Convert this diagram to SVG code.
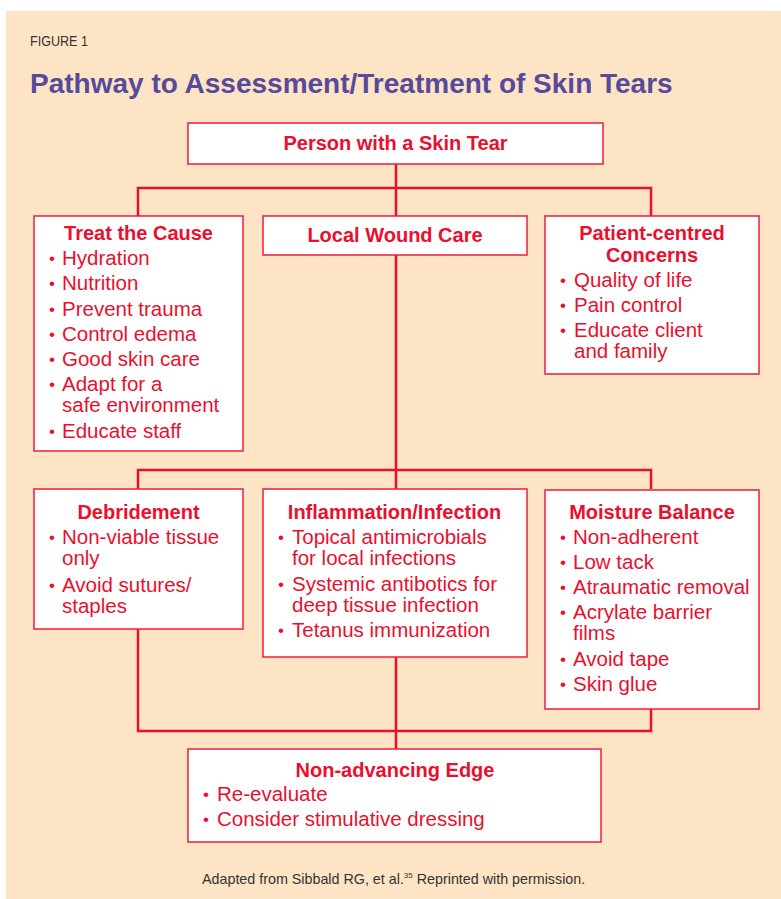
<svg xmlns="http://www.w3.org/2000/svg" width="781" height="899" viewBox="0 0 781 899">
<style>
.box{fill:#ffffff;stroke:#ee1b3a;stroke-width:1.5}
.hd{font-family:"Liberation Sans",Arial,sans-serif;font-weight:bold;font-size:20px;fill:#ea0f2e;text-anchor:middle}
.it{font-family:"Liberation Sans",Arial,sans-serif;font-size:20.5px;fill:#ea0f2e}
.bu{font-family:"Liberation Sans",Arial,sans-serif;font-size:17px;fill:#ea0f2e;text-anchor:middle}
.ln{fill:none;stroke:#ea0f2e;stroke-width:2.5}
</style>
<rect x="6" y="11" width="775" height="888" fill="#fde4c4"/>
<text x="30" y="46" font-family="Liberation Sans,Arial,sans-serif" font-size="15" fill="#333333" textLength="58" lengthAdjust="spacingAndGlyphs">FIGURE 1</text>
<text x="30" y="93" font-family="Liberation Sans,Arial,sans-serif" font-weight="bold" font-size="28" fill="#574a9c">Pathway to Assessment/Treatment of Skin Tears</text>

<g id="connectors">
<path class="ln" d="M396 164V216M138 216V188H651V216"/>
<path class="ln" d="M396 255V489M138 489V470H651V489"/>
<path class="ln" d="M138 629V731H651V709M396 657V749"/>
</g>

<g id="person">
<rect class="box" x="188" y="123" width="415" height="41"/>
<text class="hd" x="395.5" y="150">Person with a Skin Tear</text>
</g>

<g id="treat-cause">
<rect class="box" x="34" y="216" width="209" height="235"/>
<text class="hd" x="138.5" y="240">Treat the Cause</text>
<g class="bu"><text x="52" y="264">•</text><text x="52" y="289">•</text><text x="52" y="315">•</text><text x="52" y="340">•</text><text x="52" y="365">•</text><text x="52" y="390">•</text><text x="52" y="437">•</text></g>
<text class="it" x="62" y="265">Hydration</text>
<text class="it" x="62" y="290">Nutrition</text>
<text class="it" x="62" y="316">Prevent trauma</text>
<text class="it" x="62" y="341">Control edema</text>
<text class="it" x="62" y="366">Good skin care</text>
<text class="it" x="62" y="391">Adapt for a</text>
<text class="it" x="62" y="412">safe environment</text>
<text class="it" x="62" y="438">Educate staff</text>
</g>

<g id="local-wound-care">
<rect class="box" x="263" y="216" width="264" height="39"/>
<text class="hd" x="395" y="242">Local Wound Care</text>
</g>

<g id="patient-centred">
<rect class="box" x="545" y="216" width="214" height="158"/>
<text class="hd" x="652" y="240">Patient-centred</text>
<text class="hd" x="652" y="262">Concerns</text>
<g class="bu"><text x="563" y="286">•</text><text x="563" y="311">•</text><text x="563" y="336">•</text></g>
<text class="it" x="574" y="287">Quality of life</text>
<text class="it" x="574" y="312">Pain control</text>
<text class="it" x="574" y="337">Educate client</text>
<text class="it" x="574" y="358">and family</text>
</g>

<g id="debridement">
<rect class="box" x="34" y="489" width="209" height="140"/>
<text class="hd" x="138.5" y="519">Debridement</text>
<g class="bu"><text x="52" y="543">•</text><text x="52" y="591">•</text></g>
<text class="it" x="62" y="544">Non-viable tissue</text>
<text class="it" x="62" y="565">only</text>
<text class="it" x="62" y="592">Avoid sutures/</text>
<text class="it" x="62" y="613">staples</text>
</g>

<g id="inflammation">
<rect class="box" x="263" y="489" width="264" height="168"/>
<text class="hd" x="394.5" y="519">Inflammation/Infection</text>
<g class="bu"><text x="281" y="543">•</text><text x="281" y="590">•</text><text x="281" y="636">•</text></g>
<text class="it" x="292" y="544">Topical antimicrobials</text>
<text class="it" x="292" y="565">for local infections</text>
<text class="it" x="292" y="591">Systemic antibotics for</text>
<text class="it" x="292" y="612">deep tissue infection</text>
<text class="it" x="292" y="637">Tetanus immunization</text>
</g>

<g id="moisture-balance">
<rect class="box" x="545" y="490" width="214" height="219"/>
<text class="hd" x="652" y="519">Moisture Balance</text>
<g class="bu"><text x="563" y="543">•</text><text x="563" y="568">•</text><text x="563" y="593">•</text><text x="563" y="618">•</text><text x="563" y="665">•</text><text x="563" y="690">•</text></g>
<text class="it" x="573" y="544">Non-adherent</text>
<text class="it" x="573" y="569">Low tack</text>
<text class="it" x="573" y="594">Atraumatic removal</text>
<text class="it" x="573" y="619">Acrylate barrier</text>
<text class="it" x="573" y="640">films</text>
<text class="it" x="573" y="666">Avoid tape</text>
<text class="it" x="573" y="691">Skin glue</text>
</g>

<g id="non-advancing">
<rect class="box" x="188" y="749" width="413" height="93"/>
<text class="hd" x="395" y="777">Non-advancing Edge</text>
<g class="bu"><text x="206" y="800">•</text><text x="206" y="825">•</text></g>
<text class="it" x="217" y="801">Re-evaluate</text>
<text class="it" x="217" y="826">Consider stimulative dressing</text>
</g>

<text x="202" y="884" font-family="Liberation Sans,Arial,sans-serif" font-size="14.3" fill="#333333">Adapted from Sibbald RG, et al.<tspan font-size="8" dy="-6">35</tspan><tspan dy="6"> Reprinted with permission.</tspan></text>
</svg>
